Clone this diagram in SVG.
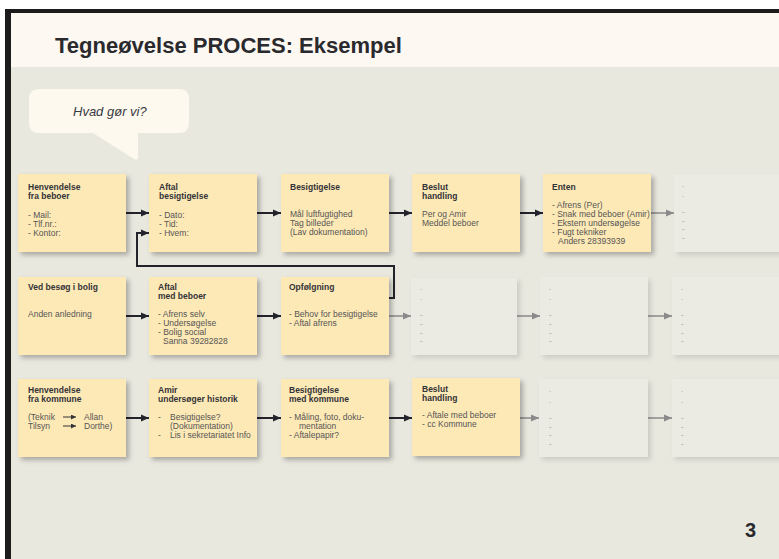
<svg xmlns="http://www.w3.org/2000/svg" width="779" height="559" viewBox="0 0 779 559">
<defs>
<style>
.ttl{font-family:"Liberation Sans",Arial,sans-serif;font-weight:bold;font-size:8.5px;fill:#333338}
.bd{font-family:"Liberation Sans",Arial,sans-serif;font-size:8.5px;fill:#555555}
.mk{font-family:"Liberation Sans",Arial,sans-serif;font-size:8px;fill:#a0a09a}
.note{fill:#fde9b6;filter:url(#sh)}
.ghost{fill:#ebeae3;filter:url(#sh2)}
.dk{stroke:#23232c;stroke-width:2;fill:none;marker-end:url(#ad)}
.gr{stroke:#8a8a8a;stroke-width:1.5;fill:none;marker-end:url(#ag)}
</style>
<filter id="sh" x="-10%" y="-10%" width="130%" height="140%">
<feDropShadow dx="3" dy="3" stdDeviation="2.5" flood-color="#000" flood-opacity="0.28"/>
</filter>
<filter id="sh2" x="-10%" y="-10%" width="130%" height="140%">
<feDropShadow dx="3" dy="3" stdDeviation="2.5" flood-color="#000" flood-opacity="0.12"/>
</filter>
<marker id="ad" markerUnits="userSpaceOnUse" markerWidth="9" markerHeight="8" refX="8" refY="4" orient="auto">
<path d="M0,0.5 L8,4 L0,7.5 z" fill="#23232c"/>
</marker>
<marker id="ag" markerUnits="userSpaceOnUse" markerWidth="9" markerHeight="8" refX="8" refY="4" orient="auto">
<path d="M0,0.5 L8,4 L0,7.5 z" fill="#8a8a8a"/>
</marker>
<marker id="as" markerUnits="userSpaceOnUse" markerWidth="6" markerHeight="5" refX="5" refY="2.5" orient="auto">
<path d="M0,0 L5,2.5 L0,5 z" fill="#333338"/>
</marker>
</defs>

<rect x="0" y="0" width="779" height="559" fill="#ffffff"/>
<rect x="5" y="9" width="780" height="560" fill="#1c1c1c"/>
<rect x="11" y="13" width="770" height="560" fill="#e9e8df"/>
<rect x="11" y="13" width="770" height="54" fill="#fdf9f2"/>
<text x="55" y="53" font-family="'Liberation Sans',Arial,sans-serif" font-weight="bold" font-size="22" fill="#2a2a2e">Tegneøvelse PROCES: Eksempel</text>
<text x="745" y="537" font-family="'Liberation Sans',Arial,sans-serif" font-weight="bold" font-size="20" fill="#2a2a2e">3</text>

<g id="bubble">
<path d="M39,89 H179 Q189,89 189,99 V123 Q189,133 179,133 H138 L138,157 Q138,161 134,159 L93,133 H39 Q29,133 29,123 V99 Q29,89 39,89 Z" fill="#fdf9ee"/>
<text x="73" y="116" font-family="'Liberation Sans',Arial,sans-serif" font-style="italic" font-size="13" fill="#3a3a44">Hvad gør vi?</text>
</g>

<g id="connectors">
<line class="dk" x1="126" y1="213" x2="149" y2="213"/>
<line class="dk" x1="257" y1="213" x2="281" y2="213"/>
<line class="dk" x1="388" y1="213" x2="412" y2="213"/>
<line class="dk" x1="519" y1="213" x2="543" y2="213"/>
<line class="gr" x1="651" y1="213" x2="674" y2="213"/>
<line class="dk" x1="126" y1="316" x2="149" y2="316"/>
<line class="dk" x1="257" y1="316" x2="281" y2="316"/>
<line class="gr" x1="388" y1="316" x2="411" y2="316"/>
<line class="gr" x1="517" y1="316" x2="540" y2="316"/>
<line class="gr" x1="648" y1="316" x2="672" y2="316"/>
<line class="dk" x1="126" y1="418" x2="149" y2="418"/>
<line class="dk" x1="257" y1="418" x2="281" y2="418"/>
<line class="dk" x1="388" y1="418" x2="412" y2="418"/>
<line class="gr" x1="519" y1="418" x2="539" y2="418"/>
<line class="gr" x1="648" y1="418" x2="672" y2="418"/>
<polyline class="dk" points="388,298 394,298 394,266 137,266 137,233 149,233"/>
</g>

<g id="r1c1"><rect class="note" x="18" y="174" width="108" height="78"/>
<text class="ttl" x="28" y="190">Henvendelse</text><text class="ttl" x="28" y="199">fra beboer</text>
<text class="bd" x="28" y="218">- Mail:</text><text class="bd" x="28" y="227">- Tlf.nr.:</text><text class="bd" x="28" y="236">- Kontor:</text></g>

<g id="r1c2"><rect class="note" x="149" y="174" width="108" height="78"/>
<text class="ttl" x="159" y="190">Aftal</text><text class="ttl" x="159" y="199">besigtigelse</text>
<text class="bd" x="159" y="218">- Dato:</text><text class="bd" x="159" y="227">- Tid:</text><text class="bd" x="159" y="236">- Hvem:</text></g>

<g id="r1c3"><rect class="note" x="281" y="174" width="108" height="78"/>
<text class="ttl" x="290" y="190">Besigtigelse</text>
<text class="bd" x="290" y="217">Mål luftfugtighed</text><text class="bd" x="290" y="226">Tag billeder</text><text class="bd" x="290" y="235">(Lav dokumentation)</text></g>

<g id="r1c4"><rect class="note" x="412" y="174" width="108" height="78"/>
<text class="ttl" x="422" y="190">Beslut</text><text class="ttl" x="422" y="199">handling</text>
<text class="bd" x="422" y="217">Per og Amir</text><text class="bd" x="422" y="226">Meddel beboer</text></g>

<g id="r1c5"><rect class="note" x="543" y="174" width="108" height="78"/>
<text class="ttl" x="552" y="190">Enten</text>
<text class="bd" x="552" y="208">- Afrens (Per)</text><text class="bd" x="552" y="217">- Snak med beboer (Amir)</text><text class="bd" x="552" y="226">- Ekstern undersøgelse</text><text class="bd" x="552" y="235">- Fugt tekniker</text><text class="bd" x="558" y="244">Anders 28393939</text></g>

<g id="r1c6"><rect class="ghost" x="674" y="174" width="108" height="78"/>
<text class="mk" x="682" y="187">.</text><text class="mk" x="682" y="197">.</text><text class="mk" x="682" y="214">-</text><text class="mk" x="682" y="223">-</text><text class="mk" x="682" y="231">-</text><text class="mk" x="682" y="240">-</text></g>

<g id="r2c1"><rect class="note" x="18" y="277" width="108" height="78"/>
<text class="ttl" x="28" y="290">Ved besøg i bolig</text>
<text class="bd" x="28" y="317">Anden anledning</text></g>

<g id="r2c2"><rect class="note" x="149" y="277" width="108" height="78"/>
<text class="ttl" x="158" y="290">Aftal</text><text class="ttl" x="158" y="299">med beboer</text>
<text class="bd" x="158" y="317">- Afrens selv</text><text class="bd" x="158" y="326">- Undersøgelse</text><text class="bd" x="158" y="335">- Bolig social</text><text class="bd" x="163" y="344">Sanna 39282828</text></g>

<g id="r2c3"><rect class="note" x="281" y="277" width="108" height="78"/>
<text class="ttl" x="289" y="290">Opfølgning</text>
<text class="bd" x="289" y="317">- Behov for besigtigelse</text><text class="bd" x="289" y="326">- Aftal afrens</text></g>

<g id="r2c4"><rect class="ghost" x="411" y="278" width="106" height="77"/>
<text class="mk" x="420" y="290">.</text><text class="mk" x="420" y="300">.</text><text class="mk" x="420" y="317">-</text><text class="mk" x="420" y="326">-</text><text class="mk" x="420" y="335">-</text><text class="mk" x="420" y="343">-</text></g>

<g id="r2c5"><rect class="ghost" x="540" y="277" width="108" height="78"/>
<text class="mk" x="549" y="290">.</text><text class="mk" x="549" y="300">.</text><text class="mk" x="549" y="317">-</text><text class="mk" x="549" y="326">-</text><text class="mk" x="549" y="335">-</text><text class="mk" x="549" y="343">-</text></g>

<g id="r2c6"><rect class="ghost" x="672" y="277" width="110" height="78"/>
<text class="mk" x="681" y="290">.</text><text class="mk" x="681" y="300">.</text><text class="mk" x="681" y="317">-</text><text class="mk" x="681" y="326">-</text><text class="mk" x="681" y="335">-</text><text class="mk" x="681" y="343">-</text></g>

<g id="r3c1"><rect class="note" x="18" y="379" width="108" height="78"/>
<text class="ttl" x="28" y="393">Henvendelse</text><text class="ttl" x="28" y="402">fra kommune</text>
<text class="bd" x="28" y="420">(Teknik</text><text class="bd" x="28" y="429">Tilsyn</text>
<text class="bd" x="84" y="420">Allan</text><text class="bd" x="84" y="429">Dorthe)</text>
<line x1="63" y1="417" x2="76" y2="417" stroke="#333338" stroke-width="1" marker-end="url(#as)"/>
<line x1="63" y1="426" x2="76" y2="426" stroke="#333338" stroke-width="1" marker-end="url(#as)"/></g>

<g id="r3c2"><rect class="note" x="149" y="379" width="108" height="78"/>
<text class="ttl" x="158" y="393">Amir</text><text class="ttl" x="158" y="402">undersøger historik</text>
<text class="bd" x="158" y="420">-</text><text class="bd" x="170" y="420">Besigtigelse?</text><text class="bd" x="170" y="429">(Dokumentation)</text>
<text class="bd" x="158" y="438">-</text><text class="bd" x="170" y="438">Lis i sekretariatet Info</text></g>

<g id="r3c3"><rect class="note" x="281" y="379" width="108" height="78"/>
<text class="ttl" x="289" y="393">Besigtigelse</text><text class="ttl" x="289" y="402">med kommune</text>
<text class="bd" x="289" y="420">- Måling, foto, doku-</text><text class="bd" x="299" y="429">mentation</text><text class="bd" x="289" y="438">- Aftalepapir?</text></g>

<g id="r3c4"><rect class="note" x="412" y="378" width="108" height="78"/>
<text class="ttl" x="422" y="392">Beslut</text><text class="ttl" x="422" y="401">handling</text>
<text class="bd" x="422" y="418">- Aftale med beboer</text><text class="bd" x="422" y="427">- cc Kommune</text></g>

<g id="r3c5"><rect class="ghost" x="539" y="379" width="109" height="78"/>
<text class="mk" x="549" y="392">.</text><text class="mk" x="549" y="403">.</text><text class="mk" x="549" y="420">-</text><text class="mk" x="549" y="429">-</text><text class="mk" x="549" y="437">-</text><text class="mk" x="549" y="446">-</text></g>

<g id="r3c6"><rect class="ghost" x="672" y="379" width="110" height="78"/>
<text class="mk" x="681" y="392">.</text><text class="mk" x="681" y="403">.</text><text class="mk" x="681" y="420">-</text><text class="mk" x="681" y="429">-</text><text class="mk" x="681" y="437">-</text><text class="mk" x="681" y="446">-</text></g>
</svg>
